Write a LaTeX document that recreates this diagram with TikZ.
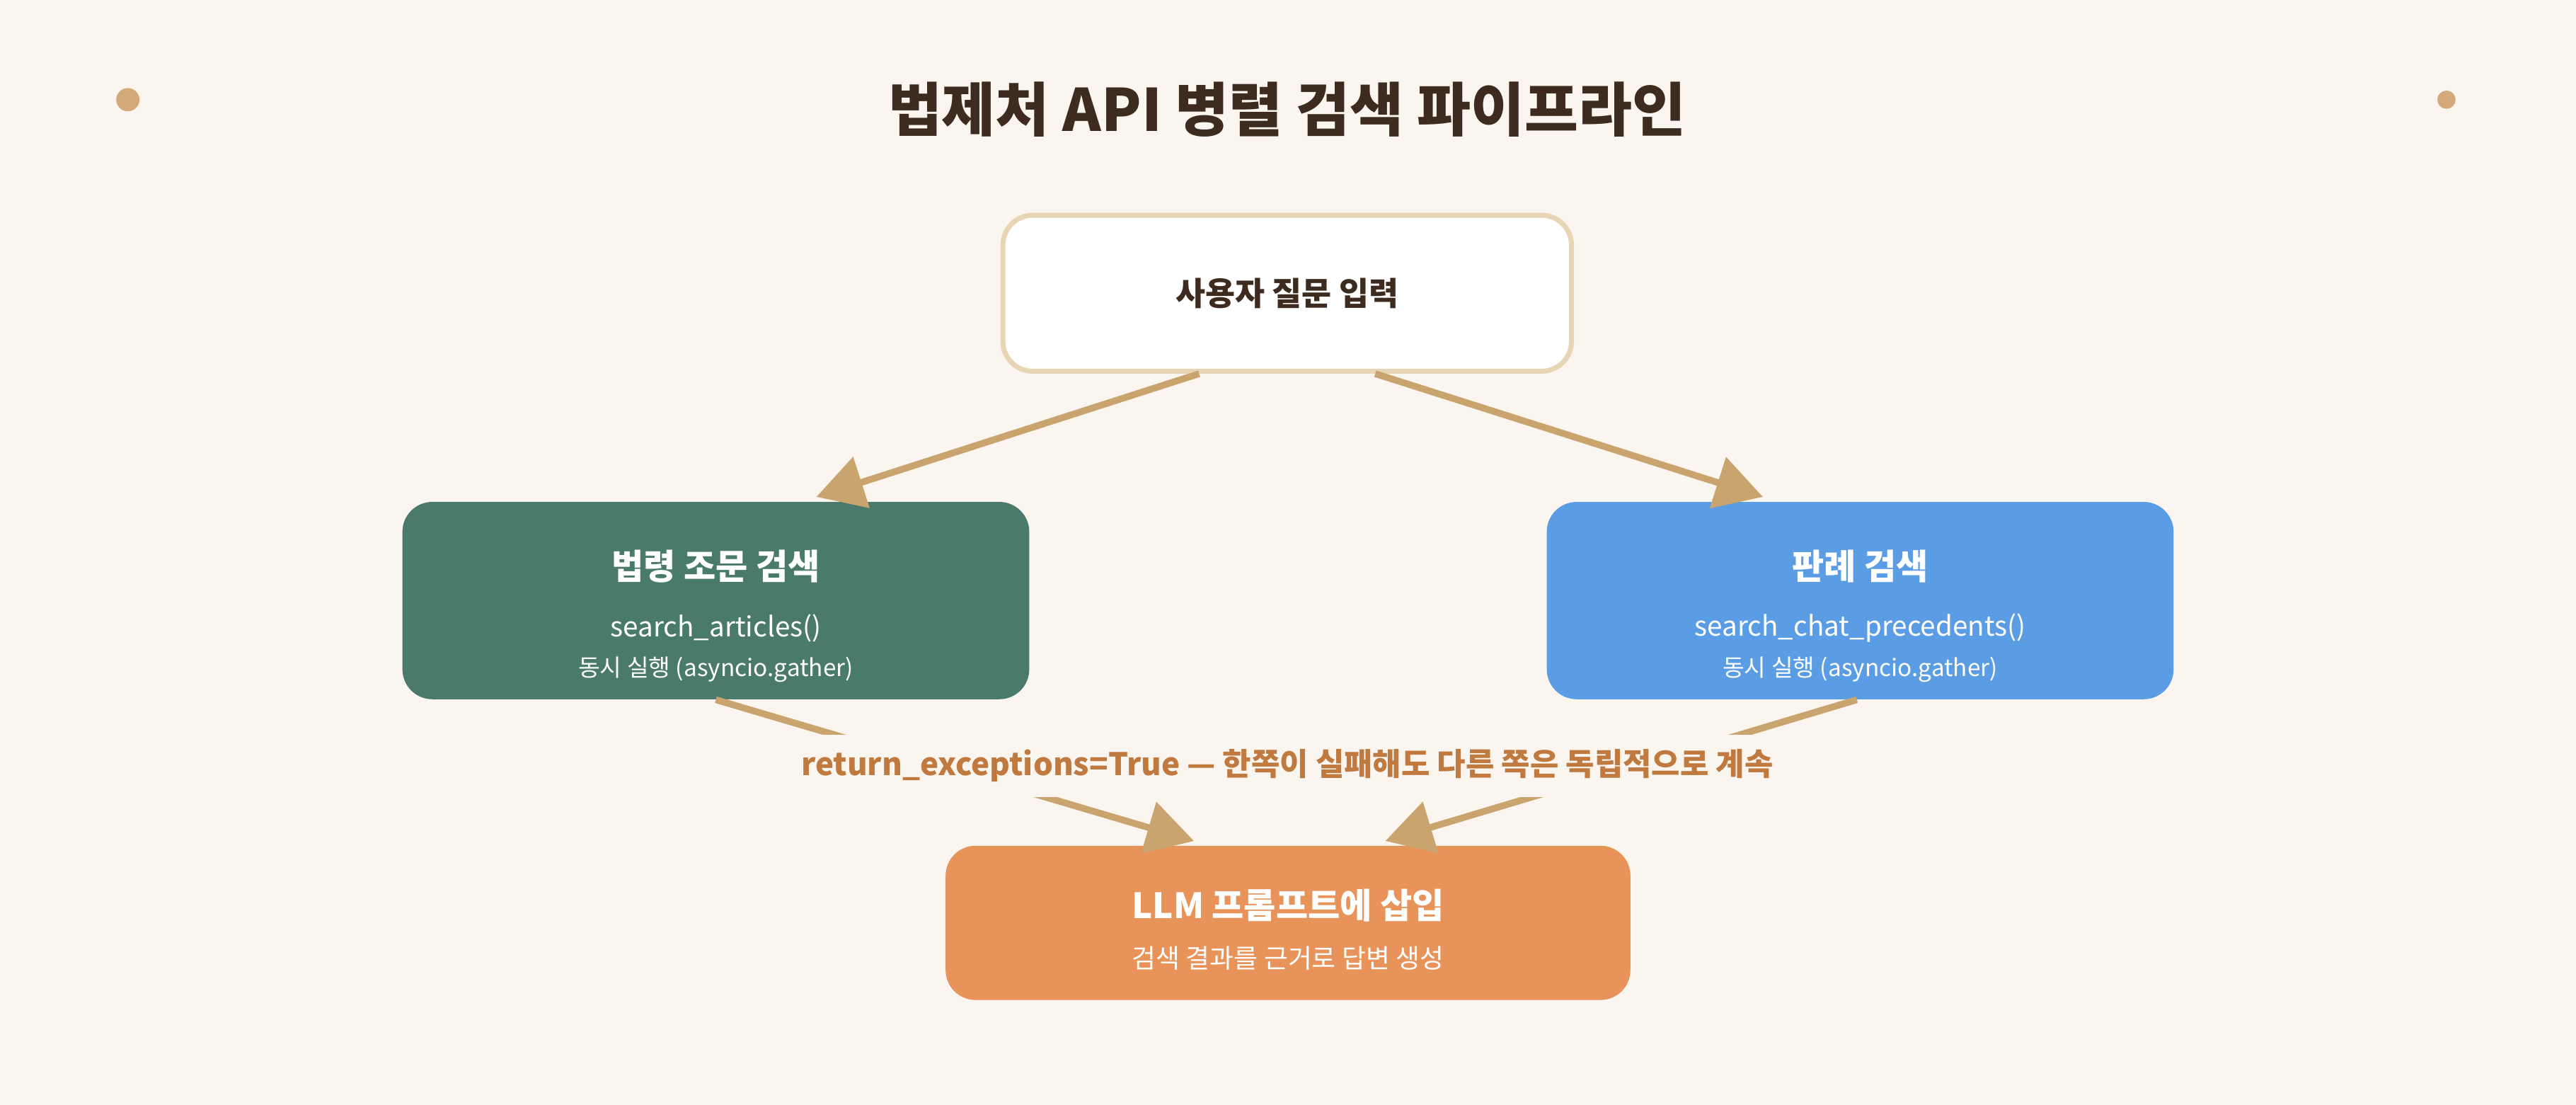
\documentclass[tikz,border=0pt]{standalone}
\usepackage{fontspec}
\setmainfont{Noto Sans CJK KR}
\usetikzlibrary{arrows.meta}
\definecolor{bg}{HTML}{FAF6EF}
\definecolor{ttl}{HTML}{3D2B1F}
\definecolor{dot}{HTML}{D4AA7A}
\definecolor{bord}{HTML}{E8D5B5}
\definecolor{grn}{HTML}{4A7A6A}
\definecolor{blu}{HTML}{5B9DE5}
\definecolor{org}{HTML}{E8935A}
\definecolor{arr}{HTML}{C9A46E}
\definecolor{lbl}{HTML}{C07A40}
\begin{document}
\begin{tikzpicture}[x=0.023469cm,y=-0.023469cm,
  box/.style={rounded corners=12pt,inner sep=0pt},
  conn/.style={arr,line width=2.7pt,-{Triangle[length=19pt,width=21pt]}},
  t1/.style={font=\bfseries\fontsize{14}{17}\selectfont,text=white},
  t2/.style={font=\fontsize{11}{13}\selectfont,text=white},
  t3/.style={font=\fontsize{9.5}{12}\selectfont,text=white}]
\fill[bg] (0,0) rectangle (1551,665);
\useasboundingbox (0,0) rectangle (1551,665);
\fill[dot] (77,60) circle (7);
\fill[dot] (1473,60) circle (5.5);
\node[text=ttl,font=\bfseries\fontsize{23.5}{28}\selectfont] (title) at (775,66) {법제처 API 병렬 검색 파이프라인};
\node[box,draw=bord,line width=2pt,fill=white,minimum width=228.6pt,minimum height=62.7pt] (b1) at (775,176.5) {};
\node[text=ttl,font=\bfseries\fontsize{13}{16}\selectfont] (b1t) at (b1) {사용자 질문 입력};
\node[box,fill=grn,minimum width=252pt,minimum height=79.3pt] (b2) at (431,361.5) {};
\node[box,fill=blu,minimum width=252pt,minimum height=79.3pt] (b3) at (1120,361.5) {};
\node[box,fill=org,minimum width=275.3pt,minimum height=62pt] (b4) at (775.5,555.5) {};
\node[t1] (b2a) at (431,341) {법령 조문 검색};
\node[t2] (b2b) at (431,378) {search\_articles()};
\node[t3] (b2c) at (431,403) {동시 실행 (asyncio.gather)};
\node[t1] (b3a) at (1120,341) {판례 검색};
\node[t2] (b3b) at (1120,378) {search\_chat\_precedents()};
\node[t3] (b3c) at (1120,403) {동시 실행 (asyncio.gather)};
\node[t1] (b4a) at (775.5,545) {LLM 프롬프트에 삽입};
\node[t3,font=\fontsize{10.5}{13}\selectfont] (b4b) at (775.5,577) {검색 결과를 근거로 답변 생성};
\draw[conn,shorten >=6pt] ([xshift=-53*0.23469mm]b1.south) -- ([xshift=52*0.23469mm]b2.north);
\draw[conn,shorten >=6pt] ([xshift=53*0.23469mm]b1.south) -- ([xshift=-50*0.23469mm]b3.north);
\draw[conn,shorten >=6pt] (b2.south) -- ([xshift=-48*0.23469mm]b4.north);
\draw[conn,shorten >=6pt] ([xshift=-2*0.23469mm]b3.south) -- ([xshift=50*0.23469mm]b4.north);
\node[fill=bg,text=lbl,inner xsep=3pt,inner ysep=6pt,font=\bfseries\fontsize{12.5}{15}\selectfont] (lab) at (775,461) {return\_exceptions=True — 한쪽이 실패해도 다른 쪽은 독립적으로 계속};
\end{tikzpicture}
\end{document}
